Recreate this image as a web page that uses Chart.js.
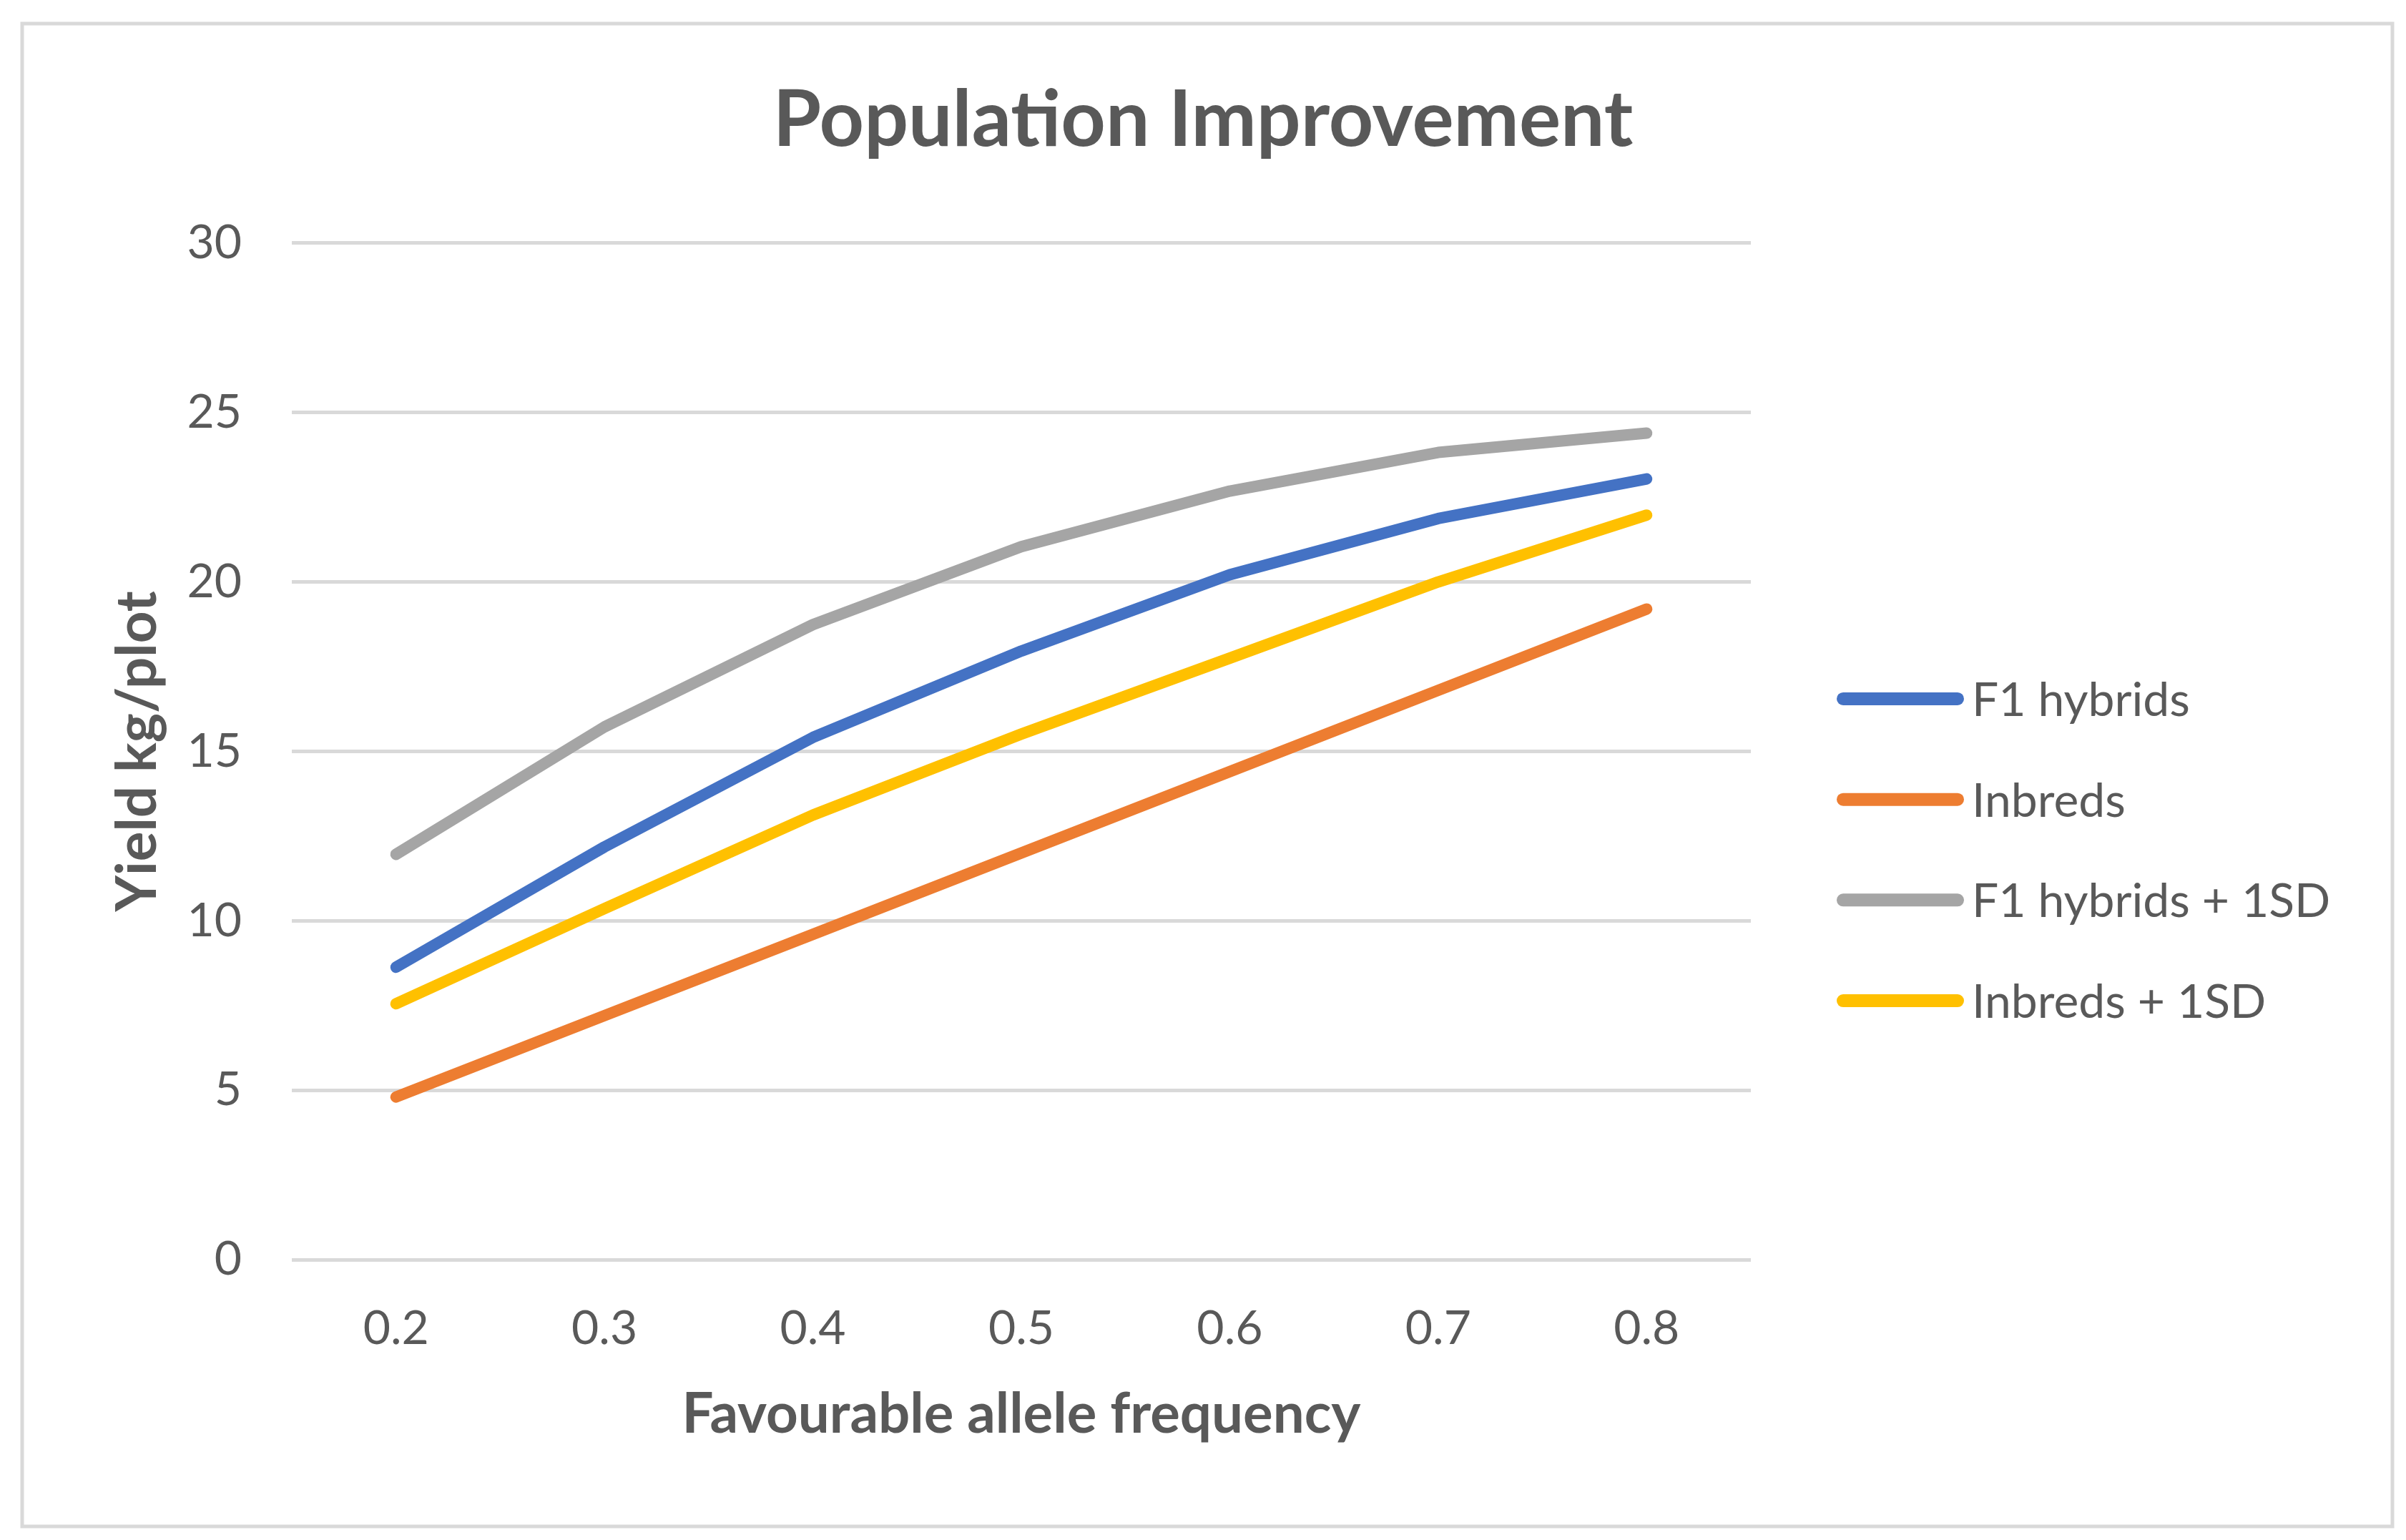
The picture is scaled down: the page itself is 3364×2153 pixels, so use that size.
<!DOCTYPE html>
<html>
<head>
<meta charset="utf-8">
<script src="https://cdn.jsdelivr.net/npm/chart.js@4.4.1/dist/chart.umd.min.js"></script>
<style>
  html, body { margin: 0; padding: 0; background: #fff; overflow: hidden; }
  canvas { display: block; }
</style>
</head>
<body>
<canvas id="chart" width="3364" height="2153"></canvas>
<script>
// values
const frequencies = ['0.2', '0.3', '0.4', '0.5', '0.6', '0.7', '0.8'];
const f1Hybrids = [8.63, 12.18, 15.41, 17.96, 20.21, 21.87, 23.04];
const inbreds = [4.8, 7.2, 9.6, 12.0, 14.4, 16.8, 19.2];
const f1HybridsSD = [11.96, 15.72, 18.74, 21.04, 22.68, 23.82, 24.39];
const inbredsSD = [7.55, 10.36, 13.12, 15.51, 17.75, 20.0, 21.97];
const seriesNames = ['F1 hybrids', 'Inbreds', 'F1 hybrids + 1SD', 'Inbreds + 1SD'];
const seriesColors = ['#4472C4', '#ED7D31', '#A5A5A5', '#FFC000'];
const yTicks = [0, 5, 10, 15, 20, 25, 30];

const textColor = '#595959';
Chart.defaults.font.family = 'Lato, "Open Sans", sans-serif';
Chart.defaults.color = textColor;

// white background and the light grey frame round the chart
const frame = {
  id: 'frame',
  beforeDraw(chart) {
    const ctx = chart.ctx;
    ctx.save();
    ctx.fillStyle = '#fff';
    ctx.fillRect(0, 0, chart.width, chart.height);
    ctx.strokeStyle = '#d9d9d9';
    ctx.lineWidth = 5;
    ctx.strokeRect(31, 33, 3314, 2101);
    ctx.restore();
  }
};

// legend on the right, drawn from the datasets
const sideLegend = {
  id: 'sideLegend',
  afterDraw(chart) {
    const { ctx, chartArea } = chart;
    const x0 = chartArea.right + 120;
    const x1 = x0 + 178;
    const midY = 1188, gap = 140.7;
    ctx.save();
    ctx.font = '66px Lato, "Open Sans", sans-serif';
    ctx.textAlign = 'left';
    ctx.textBaseline = 'alphabetic';
    chart.data.datasets.forEach((ds, i) => {
      const y = midY + (i - 1.5) * gap;
      ctx.strokeStyle = ds.borderColor;
      ctx.lineWidth = 18;
      ctx.lineCap = 'round';
      ctx.beginPath();
      ctx.moveTo(x0 + 9, y);
      ctx.lineTo(x1 - 9, y);
      ctx.stroke();
      ctx.fillStyle = textColor;
      ctx.fillText(ds.label, x1 + 11, y + 24);
    });
    ctx.restore();
  }
};

const seriesData = [f1Hybrids, inbreds, f1HybridsSD, inbredsSD];

new Chart(document.getElementById('chart'), {
  type: 'line',
  data: {
    labels: frequencies,
    datasets: seriesData.map((d, i) => ({
      label: seriesNames[i],
      data: d,
      borderColor: seriesColors[i],
      backgroundColor: seriesColors[i],
      borderWidth: 16,
      borderCapStyle: 'round',
      borderJoinStyle: 'round',
      pointRadius: 0,
      tension: 0,
      fill: false
    }))
  },
  options: {
    responsive: false,
    animation: false,
    devicePixelRatio: 1,
    layout: { padding: 0 },
    plugins: {
      legend: { display: false },
      tooltip: { enabled: false },
      title: {
        display: true,
        text: 'Population Improvement',
        color: textColor,
        font: { size: 109, weight: 'bold', lineHeight: 1.2 },
        padding: { top: 103, bottom: 106 }
      }
    },
    scales: {
      x: {
        offset: true,
        grid: { display: false, drawTicks: false },
        border: { display: false },
        ticks: { color: textColor, font: { size: 66 }, padding: 57 },
        title: {
          display: true,
          text: 'Favourable allele frequency',
          color: textColor,
          font: { size: 78, weight: 'bold', lineHeight: 1.2 },
          padding: { top: 0, bottom: 128 }
        },
        afterFit(scale) { scale.height = 392; }
      },
      y: {
        min: 0,
        max: 30,
        afterBuildTicks(scale) { scale.ticks = yTicks.map(v => ({ value: v })); },
        grid: { color: '#d9d9d9', lineWidth: 5, drawTicks: false },
        border: { display: false },
        ticks: { color: textColor, font: { size: 66 }, padding: 70 },
        title: {
          display: true,
          text: 'Yield kg/plot',
          color: textColor,
          font: { size: 78, weight: 'bold', lineHeight: 1.2 },
          padding: { top: 146, bottom: 0 }
        },
        afterFit(scale) { scale.width = 408; }
      },
      // empty right-hand axis that keeps room for the legend
      legendRoom: {
        position: 'right',
        display: true,
        min: 0,
        max: 1,
        grid: { display: false, drawTicks: false },
        border: { display: false },
        ticks: { display: false },
        afterFit(scale) { scale.width = 916; }
      }
    }
  },
  plugins: [frame, sideLegend]
});
</script>
</body>
</html>
